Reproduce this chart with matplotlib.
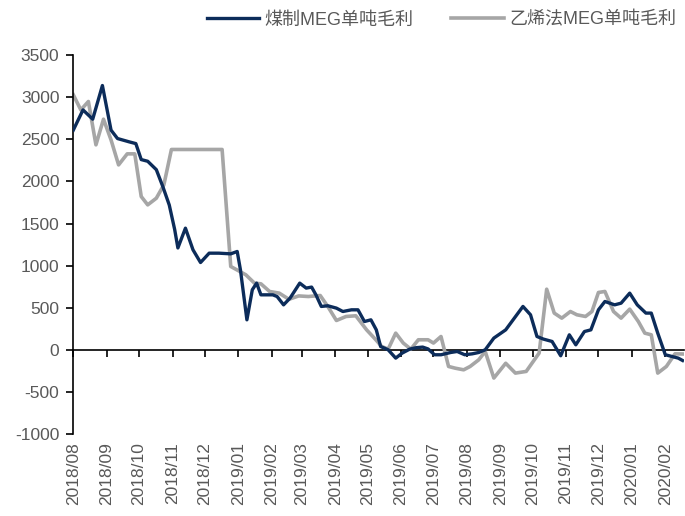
import matplotlib
matplotlib.use("Agg")
import matplotlib.pyplot as plt
import matplotlib.dates as mdates
import pandas as pd

plt.rcParams['font.family'] = ['Liberation Sans', 'Noto Sans CJK SC', 'DejaVu Sans']
plt.rcParams['axes.unicode_minus'] = False

# 煤制MEG单吨毛利
coal_dates = ["2018-08-01", "2018-08-10", "2018-08-19", "2018-08-28", "2018-09-05", "2018-09-11",
              "2018-09-22", "2018-09-28", "2018-10-03", "2018-10-09", "2018-10-17", "2018-10-23",
              "2018-10-29", "2018-11-03", "2018-11-06", "2018-11-13", "2018-11-20", "2018-11-27",
              "2018-12-05", "2018-12-14", "2018-12-25", "2018-12-31", "2019-01-03", "2019-01-09",
              "2019-01-14", "2019-01-18", "2019-01-22", "2019-02-02", "2019-02-06", "2019-02-12",
              "2019-02-18", "2019-02-21", "2019-02-27", "2019-03-05", "2019-03-10", "2019-03-14",
              "2019-03-19", "2019-03-25", "2019-04-02", "2019-04-08", "2019-04-16", "2019-04-22",
              "2019-04-28", "2019-05-04", "2019-05-09", "2019-05-13", "2019-05-20", "2019-05-27",
              "2019-06-02", "2019-06-09", "2019-06-15", "2019-06-21", "2019-06-26", "2019-07-02",
              "2019-07-08", "2019-07-17", "2019-07-23", "2019-07-30", "2019-08-06", "2019-08-12",
              "2019-08-18", "2019-08-26", "2019-09-06", "2019-09-14", "2019-09-22", "2019-09-29",
              "2019-10-05", "2019-10-11", "2019-10-19", "2019-10-27", "2019-11-04", "2019-11-10",
              "2019-11-18", "2019-11-24", "2019-12-01", "2019-12-07", "2019-12-16", "2019-12-22",
              "2019-12-30", "2020-01-06", "2020-01-14", "2020-01-19", "2020-01-25", "2020-02-01",
              "2020-02-07", "2020-02-13", "2020-02-17"]
coal_vals = [2610, 2850, 2740, 3140, 2610, 2510,
             2470, 2450, 2260, 2240, 2140, 1940,
             1720, 1430, 1210, 1445, 1188, 1037,
             1148, 1148, 1140, 1168, 950, 356,
             713, 792, 653, 653, 633, 534,
             614, 673, 792, 733, 745, 653,
             515, 523, 495, 455, 475, 475,
             336, 356, 237, 39, 0, -99,
             -39, 8, 25, 32, 10, -59,
             -59, -32, -20, -59, -48, -32,
             0, 139, 237, 376, 515, 416,
             158, 127, 99, -71, 178, 59,
             217, 237, 475, 574, 534, 554,
             673, 534, 436, 436, 198, -59,
             -79, -99, -127]

# 乙烯法MEG单吨毛利
eth_dates = ["2018-08-01", "2018-08-08", "2018-08-15", "2018-08-22", "2018-08-29", "2018-09-05",
             "2018-09-12", "2018-09-20", "2018-09-27", "2018-10-03", "2018-10-09", "2018-10-17",
             "2018-10-24", "2018-10-31", "2018-12-17", "2018-12-25", "2019-01-08", "2019-01-16",
             "2019-01-22", "2019-01-30", "2019-02-08", "2019-02-17", "2019-02-26", "2019-03-07",
             "2019-03-18", "2019-03-25", "2019-04-02", "2019-04-11", "2019-04-20", "2019-04-30",
             "2019-05-08", "2019-05-14", "2019-05-20", "2019-05-27", "2019-06-03", "2019-06-10",
             "2019-06-17", "2019-06-26", "2019-07-01", "2019-07-08", "2019-07-15", "2019-07-21",
             "2019-07-29", "2019-08-04", "2019-08-12", "2019-08-18", "2019-08-26", "2019-09-06",
             "2019-09-15", "2019-09-25", "2019-10-07", "2019-10-14", "2019-10-21", "2019-10-28",
             "2019-11-05", "2019-11-11", "2019-11-19", "2019-11-25", "2019-12-01", "2019-12-07",
             "2019-12-15", "2019-12-22", "2019-12-30", "2020-01-07", "2020-01-13", "2020-01-19",
             "2020-01-25", "2020-02-02", "2020-02-10", "2020-02-17"]
eth_vals = [3030, 2850, 2950, 2435, 2740, 2494,
            2197, 2328, 2328, 1821, 1722, 1801,
            1960, 2380, 2380, 990, 891, 792,
            784, 693, 673, 600, 640, 633,
            645, 515, 348, 396, 404, 237,
            127, 39, 8, 198, 80, 8,
            119, 119, 80, 158, -198, -218,
            -238, -198, -119, -20, -336, -160,
            -277, -257, -39, 720, 436, 376,
            455, 416, 396, 455, 681, 693,
            455, 376, 483, 336, 198, 178,
            -277, -198, -48, -50]

month_ticks = pd.date_range("2018-08-01", "2020-02-01", freq="MS")
y_ticks = list(range(-1000, 3501, 500))

navy = "#0C2C5A"
grey = "#A6A6A6"
label_grey = "#595959"

fig = plt.figure(figsize=(6.85, 5.16), dpi=100)
ax = fig.add_axes([0.107, 0.159, 0.891, 0.734])

ax.plot(pd.to_datetime(coal_dates), coal_vals, color=navy, lw=2.4,
        solid_joinstyle="round", label="煤制MEG单吨毛利", zorder=3)
ax.plot(pd.to_datetime(eth_dates), eth_vals, color=grey, lw=2.6,
        solid_joinstyle="round", label="乙烯法MEG单吨毛利", zorder=2)

ax.set_ylim(-1000, 3500)
ax.set_yticks(y_ticks)
ax.set_xlim(pd.Timestamp("2018-08-01"), pd.Timestamp("2020-02-18"))
ax.set_xticks(month_ticks)
ax.xaxis.set_major_formatter(mdates.DateFormatter("%Y/%m"))

for s in ["top", "right", "bottom"]:
    ax.spines[s].set_visible(False)
ax.spines["left"].set_linewidth(1.2)
ax.tick_params(axis="y", direction="out", length=5, width=1.2, colors="black",
               labelcolor=label_grey, labelsize=12.5, pad=5)
ax.tick_params(axis="x", length=0, labelcolor=label_grey, labelsize=12.5,
               labelrotation=90, pad=6)

# zero line axis with tick marks
sec = ax.secondary_xaxis(1000 / 4500)
sec.set_xticks(month_ticks)
sec.set_xticklabels([])
sec.spines["bottom"].set_visible(True)
sec.spines["bottom"].set_linewidth(1.2)
sec.tick_params(axis="x", direction="out", length=5, width=1.2, colors="black")

fig.legend(loc="upper right", bbox_to_anchor=(1.0, 0.995), ncol=2, frameon=False,
           fontsize=13, handlelength=2.9, columnspacing=2.1, handletextpad=0.3,
           borderaxespad=0.1, labelcolor=label_grey)

fig.savefig("out.png", dpi=100)
